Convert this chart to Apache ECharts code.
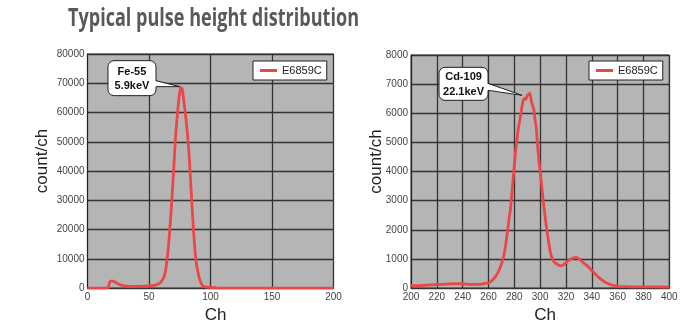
<!DOCTYPE html>
<html>
<head>
<meta charset="utf-8">
<script src="https://cdn.jsdelivr.net/npm/echarts@6/dist/echarts.min.js"></script>
<style>
  html, body { margin: 0; padding: 0; background: #fff; }
  #chart { width: 687px; height: 329px; }
</style>
</head>
<body>
<div id="chart"></div>
<script>
// Fe-55 spectrum (5.9 keV line): channel vs counts per channel
const feCh    = [0, 16, 17, 18, 19, 20, 21, 23, 25, 28, 32, 40, 48, 52, 55, 58, 60, 62, 63, 64, 66, 68, 70, 71, 72, 74, 75, 76, 77, 78, 80, 82, 84, 85, 86, 88, 90, 92, 94, 97, 100, 104, 106, 200];
const feCount = [0, 0, 400, 1900, 2400, 2500, 2350, 1900, 1400, 950, 700, 600, 650, 800, 1000, 1500, 2200, 3600, 5100, 7500, 15000, 26500, 40000, 47500, 54000, 63500, 67000, 68500, 68000, 65000, 58000, 49000, 35500, 28000, 21000, 10000, 5000, 2000, 700, 300, 200, 120, 0, 0];

// Cd-109 spectrum (22.1 keV line)
const cdCh    = [200, 205, 210, 215, 220, 225, 230, 235, 240, 245, 250, 255, 258, 260, 262, 264, 266, 268, 270, 272, 274, 276, 277, 279, 281, 283, 284, 286, 287, 288, 289, 290, 291, 292, 293, 294, 295, 296, 297, 298, 299, 300, 301, 302, 303, 304, 305, 306, 308, 310, 312, 314, 316, 318, 320, 322, 324, 326, 328, 330, 332, 334, 336, 338, 340, 342, 344, 346, 348, 350, 353, 356, 360, 365, 370, 380, 390, 400];
const cdCount = [90, 80, 95, 110, 120, 130, 145, 150, 150, 130, 125, 140, 165, 180, 230, 320, 430, 600, 820, 1150, 1700, 2400, 2700, 3700, 4700, 5450, 5700, 6250, 6450, 6520, 6480, 6600, 6650, 6690, 6470, 6280, 6160, 5800, 5500, 4900, 4400, 4000, 3600, 3150, 2750, 2400, 2050, 1750, 1200, 950, 850, 800, 760, 800, 880, 950, 1000, 1040, 1050, 1000, 930, 850, 780, 700, 600, 520, 420, 340, 270, 210, 150, 100, 60, 50, 45, 40, 40, 35];

// Peak annotations
const feMarker = [76, 68500];
const feLabel  = ['Fe-55', '5.9keV'];
const cdMarker = [291, 6650];
const cdLabel  = ['Cd-109', '22.1keV'];

const seriesName = 'E6859C';
const titleText  = 'Typical pulse height distribution';

const LINE_RED = '#ee4646';
const GRID_LINE = '#333';
const TICK_FONT = '"Liberation Sans", Arial, sans-serif';

const chart = echarts.init(document.getElementById('chart'), null, { renderer: 'canvas' });

// Squeeze the heading horizontally into its column
const titleFont = 'bold 25px "Open Sans", sans-serif';
const ctx = document.createElement('canvas').getContext('2d');
ctx.font = titleFont;
const titleScale = 291 / ctx.measureText(titleText).width;

function pairs(xs, ys) { return xs.map((x, i) => [x, ys[i]]); }
const plain = v => String(v);

// Callout box with a wedge pointing at the peak
function callout(lines, L) {
  return function (params, api) {
    const p = api.coord([api.value(0), api.value(1)]);
    const tx = p[0] + L.tipDx, ty = p[1] + L.tipDy;
    const bx = tx + L.boxDx, by = ty + L.boxDy;
    const right = bx + L.w;
    return {
      type: 'group',
      children: [
        { type: 'rect', shape: { x: bx, y: by, width: L.w, height: L.h, r: 6 },
          style: { fill: '#fff', stroke: '#222', lineWidth: 1 } },
        { type: 'polygon', shape: { points: [[right - 2, ty + L.b1], [tx, ty], [right - 2, ty + L.b2]] },
          style: { fill: '#fff' } },
        { type: 'polyline', shape: { points: [[right, ty + L.b1], [tx, ty], [right, ty + L.b2]] },
          style: { stroke: '#222', lineWidth: 1, fill: null } },
        { type: 'text', x: bx + L.w / 2, y: by + L.h / 2 + 0.5,
          style: { text: lines.join('\n'), fill: '#111', align: 'center', verticalAlign: 'middle',
                   fontSize: 11, fontWeight: 'bold', fontFamily: TICK_FONT, lineHeight: L.lh } }
      ]
    };
  };
}

function xAxisCfg(gridIndex, min, max, interval) {
  return {
    type: 'value', gridIndex, min, max, interval,
    name: 'Ch', nameLocation: 'middle', nameGap: 16,
    nameTextStyle: { fontSize: 17, color: '#222', fontFamily: TICK_FONT, padding: [0, 0, 0, 10] },
    axisLine: { show: true, onZero: false, lineStyle: { color: '#333', width: 1 } },
    axisTick: { show: false },
    axisLabel: { margin: 4, fontSize: 10, color: '#444', fontFamily: TICK_FONT, formatter: plain },
    splitLine: { show: true, lineStyle: { color: GRID_LINE, width: 1.3 } }
  };
}

function yAxisCfg(gridIndex, max, interval, gap) {
  return {
    type: 'value', gridIndex, min: 0, max, interval,
    name: 'count/ch', nameLocation: 'middle', nameGap: gap, nameMoveOverlap: false,
    nameTextStyle: { fontSize: 17, color: '#222', fontFamily: TICK_FONT, padding: [0, 0, 0, 20] },
    axisLine: { show: true, lineStyle: { color: '#222', width: 1 } },
    axisTick: { show: false },
    axisLabel: { margin: 3, fontSize: 10, color: '#444', fontFamily: TICK_FONT, formatter: plain },
    splitLine: { show: true, lineStyle: { color: GRID_LINE, width: 1.3 } }
  };
}

function legendCfg(left) {
  return {
    left, top: 61, data: [seriesName], icon: 'rect', itemWidth: 17, itemHeight: 3,
    backgroundColor: '#fff', borderColor: '#222', borderWidth: 1, borderRadius: 0,
    padding: [4, 5, 4, 7], selectedMode: false,
    textStyle: { fontSize: 11, color: '#222', fontFamily: TICK_FONT }
  };
}

chart.setOption({
  animation: false,
  backgroundColor: '#fff',
  graphic: [{
    type: 'text', x: 68, y: 6, scaleX: titleScale,
    style: { text: titleText, font: titleFont, fill: '#58595b' }
  }],
  grid: [
    { left: 87.5, top: 54, width: 246, height: 245, show: true, backgroundColor: '#b5b5b5',
      borderColor: GRID_LINE, borderWidth: 1 },
    { left: 411, top: 55, width: 258.3, height: 243.3, show: true, backgroundColor: '#b5b5b5',
      borderColor: GRID_LINE, borderWidth: 1 }
  ],
  legend: [legendCfg(253), legendCfg(589)],
  xAxis: [xAxisCfg(0, 0, 200, 50), xAxisCfg(1, 200, 400, 20)],
  yAxis: [yAxisCfg(0, 80000, 10000, 37), yAxisCfg(1, 8000, 1000, 26)],
  series: [
    { type: 'line', name: seriesName, xAxisIndex: 0, yAxisIndex: 0, data: pairs(feCh, feCount),
      showSymbol: false, smooth: 0.3, lineStyle: { color: LINE_RED, width: 2.8 },
      itemStyle: { color: LINE_RED }, z: 3 },
    { type: 'line', name: seriesName, xAxisIndex: 1, yAxisIndex: 1, data: pairs(cdCh, cdCount),
      showSymbol: false, smooth: 0.15, lineStyle: { color: LINE_RED, width: 2.8 },
      itemStyle: { color: LINE_RED }, z: 3 },
    { type: 'custom', xAxisIndex: 0, yAxisIndex: 0, data: [feMarker], silent: true, clip: false, z: 5,
      renderItem: callout(feLabel, { tipDx: -1, tipDy: -1, boxDx: -72, boxDy: -26, w: 48, h: 35, b1: -6, b2: 0, lh: 14 }) },
    { type: 'custom', xAxisIndex: 1, yAxisIndex: 1, data: [cdMarker], silent: true, clip: false, z: 5,
      renderItem: callout(cdLabel, { tipDx: -6.5, tipDy: 1, boxDx: -83, boxDy: -28, w: 49, h: 33, b1: -12, b2: -5, lh: 15 }) }
  ]
});
</script>
</body>
</html>
